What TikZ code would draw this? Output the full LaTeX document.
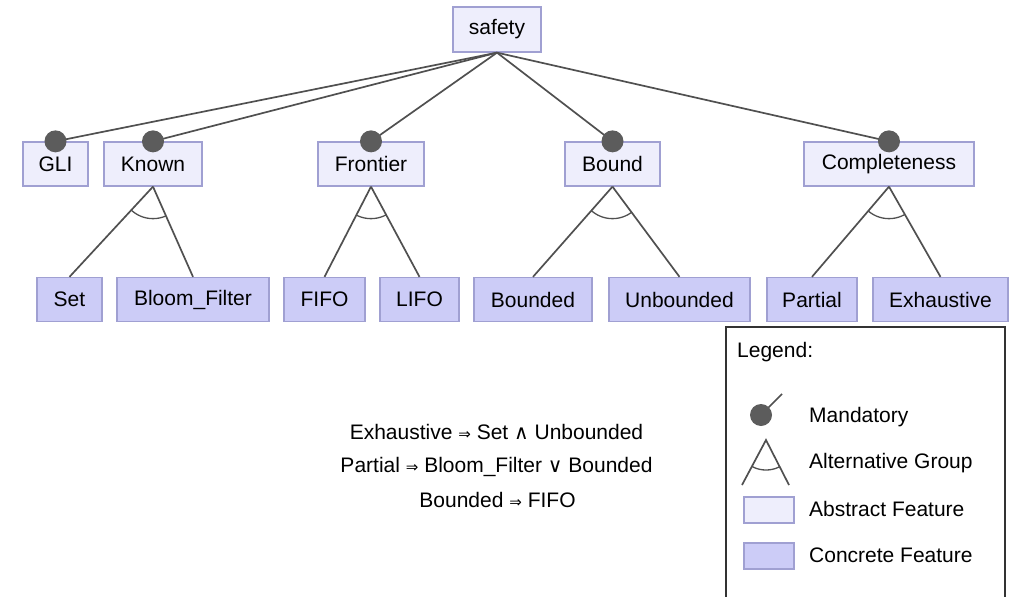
\documentclass[tikz,border=0pt]{standalone}
\usepackage{fontspec}
\setmainfont{Liberation Sans}
\newfontfamily\symfont{DejaVu Sans}
\definecolor{absfill}{RGB}{238,238,252}
\definecolor{confill}{RGB}{204,204,247}
\definecolor{featborder}{RGB}{160,160,210}
\definecolor{linkgray}{RGB}{80,80,80}
\definecolor{dotgray}{RGB}{92,92,92}
\newcommand{\implies}{{\symfont\fontsize{15}{15}\selectfont ⇒}}
\newcommand{\landsym}{{\symfont\fontsize{20}{20}\selectfont ∧}}
\newcommand{\lorsym}{{\symfont\fontsize{20}{20}\selectfont ∨}}
\begin{document}
\begin{tikzpicture}[x=1pt,y=-1pt,
  feat/.style={draw=featborder, line width=1.3pt, minimum height=44pt, inner sep=0pt,
               font=\fontsize{21}{25}\selectfont},
  abstract/.style={feat, fill=absfill},
  concrete/.style={feat, fill=confill},
  link/.style={draw=linkgray, line width=1.7pt},
  grouparc/.style={draw=linkgray, line width=1.3pt},
  mand/.style={fill=dotgray},
  lbl/.style={font=\fontsize{21}{25}\selectfont, inner sep=0pt, anchor=west},
  rule/.style={font=\fontsize{21}{25}\selectfont, inner sep=0pt}]
\useasboundingbox (0,0) rectangle (1010,597);

% root and first level (abstract features)
\node[abstract, minimum width=88pt, minimum height=45pt] (safety) at (497,29.5) {safety};
\node[abstract, minimum width=65pt]  (gli)   at (55.5,164) {GLI};
\node[abstract, minimum width=98pt]  (known) at (153,164)  {Known};
\node[abstract, minimum width=106pt] (front) at (371,164)  {Frontier};
\node[abstract, minimum width=95pt]  (bound) at (612.5,164) {Bound};
\node[abstract, minimum width=170pt] (compl) at (889,164)  {Completeness};

% second level (concrete features)
\node[concrete, minimum width=65pt]  (set)     at (69.5,299.5)  {Set};
\node[concrete, minimum width=152pt] (bloom)   at (193,299.5)   {Bloom\_Filter};
\node[concrete, minimum width=81pt]  (fifo)    at (324.5,299.5) {FIFO};
\node[concrete, minimum width=79pt]  (lifo)    at (419.5,299.5) {LIFO};
\node[concrete, minimum width=118pt] (bnd)     at (533,299.5)   {Bounded};
\node[concrete, minimum width=141pt] (unbnd)   at (679.5,299.5) {Unbounded};
\node[concrete, minimum width=90pt]  (partial) at (812,299.5)   {Partial};
\node[concrete, minimum width=135pt] (exh)     at (940.5,299.5) {Exhaustive};

% mandatory edges
\foreach \c in {gli,known,front,bound,compl}{
  \draw[link] (safety.south) -- (\c.north);
}
\foreach \c in {gli,known,front,bound,compl}{
  \fill[mand] (\c.north) circle[radius=11pt];
}

% alternative groups
\foreach \p/\a/\b in {known/set/bloom, front/fifo/lifo, bound/bnd/unbnd, compl/partial/exh}{
  \draw[link] (\p.south) -- (\a.north);
  \draw[link] (\p.south) -- (\b.north);
  \begin{scope}
    \clip (\p.south) -- (\a.north) -- (\b.north) -- cycle;
    \draw[grouparc] (\p.south) circle[radius=32pt];
  \end{scope}
}

% cross-tree constraints
\node[rule] (c1) at (496.5,432) {Exhaustive \implies\ Set \landsym\ Unbounded};
\node[rule] (c2) at (496.5,467) {Partial \implies\ Bloom\_Filter \lorsym\ Bounded};
\node[rule] (c3) at (497.5,500) {Bounded \implies\ FIFO};

% legend
\draw[draw=black!80, line width=1.5pt] (726,600) -- (726,327) -- (1005,327) -- (1005,600);
\node[lbl] (lgtitle) at (737,352) {Legend:};

\coordinate (lgdot) at (761,415);
\coordinate (lgtail) at (782,394);
\draw[link] (lgdot) -- (lgtail);
\fill[mand] (lgdot) circle[radius=11pt];
\node[lbl] (lgmand) at (809,417) {Mandatory};

\coordinate (lgapex) at (766,440);
\coordinate (lgleft) at (742,485);
\coordinate (lgright) at (789,485);
\draw[link] (lgleft) -- (lgapex) -- (lgright);
\begin{scope}
  \clip (lgapex) -- (lgleft) -- (lgright) -- cycle;
  \draw[grouparc] (lgapex) circle[radius=30pt];
\end{scope}
\node[lbl] (lgalt) at (809,463) {Alternative Group};

\node[abstract, minimum width=50pt, minimum height=26pt] (lgabs) at (769,510) {};
\node[lbl] (lgabst) at (809,509) {Abstract Feature};
\node[concrete, minimum width=50pt, minimum height=26pt] (lgcon) at (769,556) {};
\node[lbl] (lgcont) at (809,555) {Concrete Feature};
\end{tikzpicture}
\end{document}
